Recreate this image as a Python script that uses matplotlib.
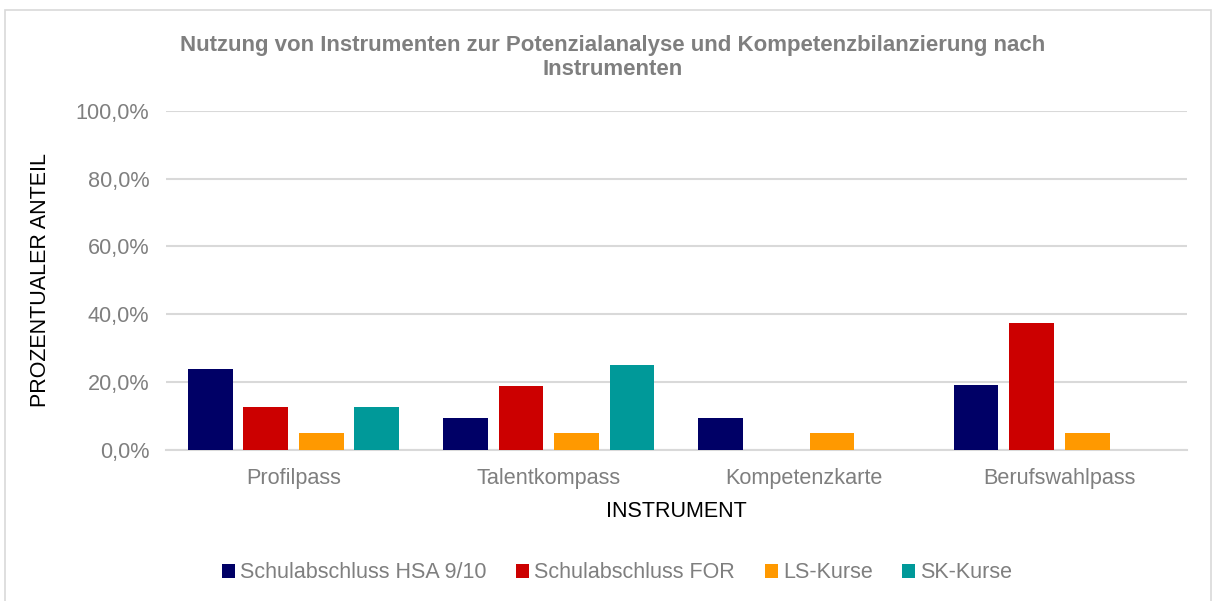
import matplotlib
matplotlib.use("Agg")
import matplotlib.pyplot as plt
import numpy as np
from matplotlib.patches import Rectangle

plt.rcParams["font.family"] = ["Liberation Sans", "DejaVu Sans"]

categories = ["Profilpass", "Talentkompass", "Kompetenzkarte", "Berufswahlpass"]
series = ["Schulabschluss HSA 9/10", "Schulabschluss FOR", "LS-Kurse", "SK-Kurse"]
hsa = [0.238, 0.095, 0.095, 0.19]
fo = [0.125, 0.187, 0.0, 0.375]
ls = [0.05, 0.05, 0.05, 0.05]
sk = [0.125, 0.25, 0.0, 0.0]
colors = ["#000066", "#CC0000", "#FF9900", "#009999"]
yticks = [0, 0.2, 0.4, 0.6, 0.8, 1.0]

fig = plt.figure(figsize=(12.15, 6.01), dpi=100)
fig.patches.append(Rectangle((0.004, -0.01), 0.993, 0.993, transform=fig.transFigure,
                             fill=False, edgecolor="#D9D9D9", linewidth=1.2))
ax = fig.add_axes([0.1365, 0.2517, 0.8405, 0.5636])

x = np.arange(len(categories))
stride = 0.2175
width = 0.175
for i, (vals, name) in enumerate(zip([hsa, fo, ls, sk], series)):
    ax.bar(x + (i - 1.5) * stride, vals, width, color=colors[i], label=name, zorder=3)

ax.set_xlim(-0.5, len(categories) - 0.5)
ax.set_ylim(0, 1.0)
ax.set_yticks(yticks)
ax.set_yticklabels([f"{v * 100:.1f}%".replace(".", ",") for v in yticks])
ax.set_xticks(x)
ax.set_xticklabels(categories)
ax.grid(axis="y", color="#D9D9D9", linewidth=1.5, zorder=0)
for s in ["top", "right", "left"]:
    ax.spines[s].set_visible(False)
ax.spines["bottom"].set_color("#D9D9D9")
ax.spines["bottom"].set_linewidth(1.5)
ax.tick_params(length=0, labelsize=15.6, labelcolor="#7F7F7F")
ax.tick_params(axis="y", pad=12)
ax.tick_params(axis="x", pad=13)

ax.set_ylabel("PROZENTUALER ANTEIL", fontsize=15.5, color="black", labelpad=18)
ax.set_xlabel("INSTRUMENT", fontsize=15.5, color="black", labelpad=9)

fig.text(0.504, 1 - 57.5 / 601,
         "Nutzung von Instrumenten zur Potenzialanalyse und Kompetenzbilanzierung nach\nInstrumenten",
         ha="center", va="center", fontsize=16, fontweight="bold", color="#7F7F7F",
         linespacing=1.15)

fig.legend(loc="center", bbox_to_anchor=(0.508, 1 - 573 / 601), ncol=4, frameon=False,
           fontsize=15.5, labelcolor="#7F7F7F", handlelength=0.6, handleheight=0.6,
           handletextpad=0.25, columnspacing=1.37)

fig.savefig("out.png", dpi=100)
